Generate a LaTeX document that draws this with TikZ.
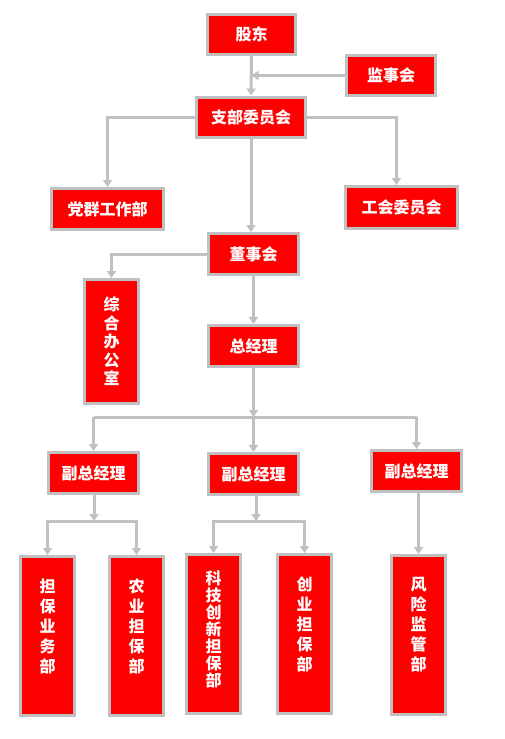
\documentclass[tikz,border=0pt]{standalone}
\usepackage{fontspec}
\newfontfamily\cjk{Noto Sans CJK SC}
\usetikzlibrary{arrows.meta}

\definecolor{unitred}{RGB}{255,0,0}
\definecolor{linkgray}{RGB}{192,192,192}

\tikzset{every picture/.style={line width=3pt}}
\tikzset{
  unit/.style={draw=linkgray, fill=unitred, text=white, inner sep=0pt,
    font=\cjk\bfseries\fontsize{16}{20}\selectfont, minimum width=90, minimum height=41},
  vunit/.style={unit, align=center, minimum width=54, minimum height=159},
  link/.style={draw=linkgray, -{Triangle[width=9pt,length=7pt]}},
  plain/.style={draw=linkgray}
}

\begin{document}
\begin{tikzpicture}[x=1pt,y=1pt,yscale=-1,xscale=1]
    \useasboundingbox (0,0) rectangle (505,739);
    % top level
    \node (gudong) [unit, minimum width=88, minimum height=40] at (251.5,34.5) {股东};
    \node (jianshi) [unit, minimum width=89, minimum height=40] at (391,75.5) {监事会};
    \node (zhibu) [unit, minimum width=109, minimum height=40] at (251,117) {支部委员会};
    \node (dangqun) [unit, minimum width=112] at (107.5,209) {党群工作部};
    \node (gonghui) [unit, minimum width=112, minimum height=42] at (401.5,207.5) {工会委员会};
    \node (dongshi) [unit] at (253.5,254) {董事会};
    \node (zonghe) [vunit, minimum height=124, font=\cjk\bfseries\fontsize{16}{18.5}\selectfont] at (111.5,341.5) {综\\合\\办\\公\\室};
    \node (zongjl) [unit] at (253.5,346) {总经理};
    % deputies
    \node (fu1) [unit] at (93.5,473) {副总经理};
    \node (fu2) [unit] at (253.5,474) {副总经理};
    \node (fu3) [unit] at (416.5,471) {副总经理};
    % departments
    \node (dbyw) [vunit] at (47.5,636) {担\\保\\业\\务\\部\\\phantom{部}};
    \node (nydb) [vunit] at (136.5,636) {农\\业\\担\\保\\部\\\phantom{部}};
    \node (kjcx) [vunit, font=\cjk\bfseries\fontsize{16}{17}\selectfont] at (213.5,634) {科\\技\\创\\新\\担\\保\\部\\[-7pt]\phantom{部}};
    \node (cydb) [vunit] at (304.5,634) {创\\业\\担\\保\\部\\\phantom{部}};
    \node (fxjg) [vunit] at (418.5,635) {风\\险\\监\\管\\部\\\phantom{部}};

    \coordinate (split) at (253.5,417);
    \coordinate (s1) at (94,521);
    \coordinate (s2) at (256,521);

    \draw[link] (gudong) -- (zhibu);
    \draw[link] (jianshi.west) -- (jianshi.west -| gudong.south);
    \draw[link] (zhibu.west) -| (dangqun.north);
    \draw[link] (zhibu.east) -| ([xshift=-5pt]gonghui.north);
    \draw[link] (zhibu.south) -- (zhibu.south |- dongshi.north);
    \draw[link] (dongshi.west) -| (zonghe.north);
    \draw[link] (dongshi) -- (zongjl);
    \draw[link] (zongjl) -- (split);
    \draw[plain] (split -| fu1) -- (split -| fu3);
    \draw[link] (split -| fu1) -- (fu1.north);
    \draw[link] (split) -- (split |- fu2.north);
    \draw[link] (split -| fu3) -- (fu3.north);
    \draw[link] (s1 |- fu1.south) -- (s1);
    \draw[link] (s1) -| (dbyw.north);
    \draw[link] (s1) -| (nydb.north);
    \draw[link] (s2 |- fu2.south) -- (s2);
    \draw[link] (s2) -| (kjcx.north);
    \draw[link] (s2) -| (cydb.north);
    \draw[link] (fxjg.north |- fu3.south) -- (fxjg.north);
\end{tikzpicture}
\end{document}
